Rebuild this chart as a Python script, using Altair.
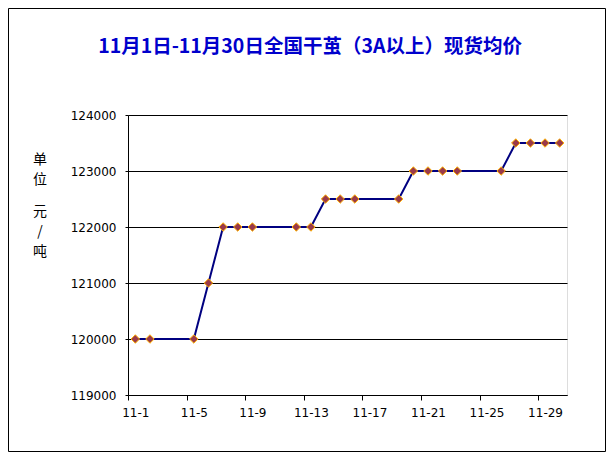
import altair as alt
import pandas as pd

# Data (November, trading days only)
days = [1, 2, 5, 6, 7, 8, 9, 12, 13, 14, 15, 16, 19, 20, 21, 22, 23, 26, 27, 28, 29, 30]
prices = [120000, 120000, 120000, 121000, 122000, 122000, 122000, 122000, 122000,
          122500, 122500, 122500, 122500, 123000, 123000, 123000, 123000, 123000,
          123500, 123500, 123500, 123500]
x_tick_days = [1, 5, 9, 13, 17, 21, 25, 29]
y_ticks = [119000, 120000, 121000, 122000, 123000, 124000]
title_text = "11月1日-11月30日全国干茧（3A以上）现货均价"
y_title_top = "单\n位"
y_title_bottom = "元\n/\n吨"

df = pd.DataFrame({"day": days, "price": prices})

W, H = 439, 280

x_enc = alt.X(
    "day:Q",
    scale=alt.Scale(domain=[0.5, 30.5], nice=False, zero=False),
    axis=alt.Axis(
        values=x_tick_days,
        labelExpr="'11-' + datum.value",
        title=None,
        grid=False,
        domainColor="black",
        tickColor="black",
        tickSize=5,
        tickOffset=-7,
        labelOffset=7,
        labelPadding=7,
        labelFont="DejaVu Sans",
        labelFontSize=12,
        labelColor="black",
        labelFlush=False,
        labelOverlap=False,
    ),
)

y_enc = alt.Y(
    "price:Q",
    scale=alt.Scale(domain=[119000, 124000], nice=False, zero=False),
    axis=alt.Axis(
        values=y_ticks,
        format="d",
        title=None,
        grid=True,
        gridColor="black",
        gridWidth=1,
        gridOpacity=1,
        domainColor="black",
        tickColor="black",
        tickSize=3,
        labelPadding=9,
        labelFont="DejaVu Sans",
        labelFontSize=12,
        labelColor="black",
    ),
)

base = alt.Chart(df)

line = base.mark_line(color="#000080", strokeWidth=2).encode(x=x_enc, y=y_enc)
points = base.mark_point(
    shape="diamond", size=72, filled=True, fill="#9A3A4A", stroke="#FFB000",
    strokeWidth=1, opacity=1
).encode(x="day:Q", y="price:Q")

one = pd.DataFrame({"a": [0]})

frame = alt.Chart(one).mark_rect(
    fill="white", fillOpacity=0, stroke="black", strokeWidth=1
).encode(
    x=alt.value(-119.5), x2=alt.value(W + 38.5),
    y=alt.value(-106.5), y2=alt.value(H + 56.5),
)

title_mark = alt.Chart(pd.DataFrame({"t": [title_text]})).mark_text(
    font="Noto Sans CJK SC", fontSize=19.5, fontWeight="bold", color="#0000CC",
    align="center", baseline="middle"
).encode(text="t:N", x=alt.value(182), y=alt.value(-68))

ytitle1 = alt.Chart(pd.DataFrame({"t": [y_title_top]})).mark_text(
    font="Noto Sans CJK SC", fontSize=14, color="black", align="center",
    baseline="middle", lineBreak="\n", lineHeight=20
).encode(text="t:N", x=alt.value(-88), y=alt.value(45))

ytitle2 = alt.Chart(pd.DataFrame({"t": [y_title_bottom]})).mark_text(
    font="Noto Sans CJK SC", fontSize=14, color="black", align="center",
    baseline="middle", lineBreak="\n", lineHeight=20
).encode(text="t:N", x=alt.value(-88), y=alt.value(97))

chart = alt.layer(frame, line, points, title_mark, ytitle1, ytitle2).properties(
    width=W,
    height=H,
    padding={"left": 120, "top": 107, "right": 39, "bottom": 57},
    autosize=alt.AutoSizeParams(type="none"),
).configure_view(stroke=None).configure(background="white")

chart.save("out.html", embed_options={"renderer": "svg", "actions": False})
